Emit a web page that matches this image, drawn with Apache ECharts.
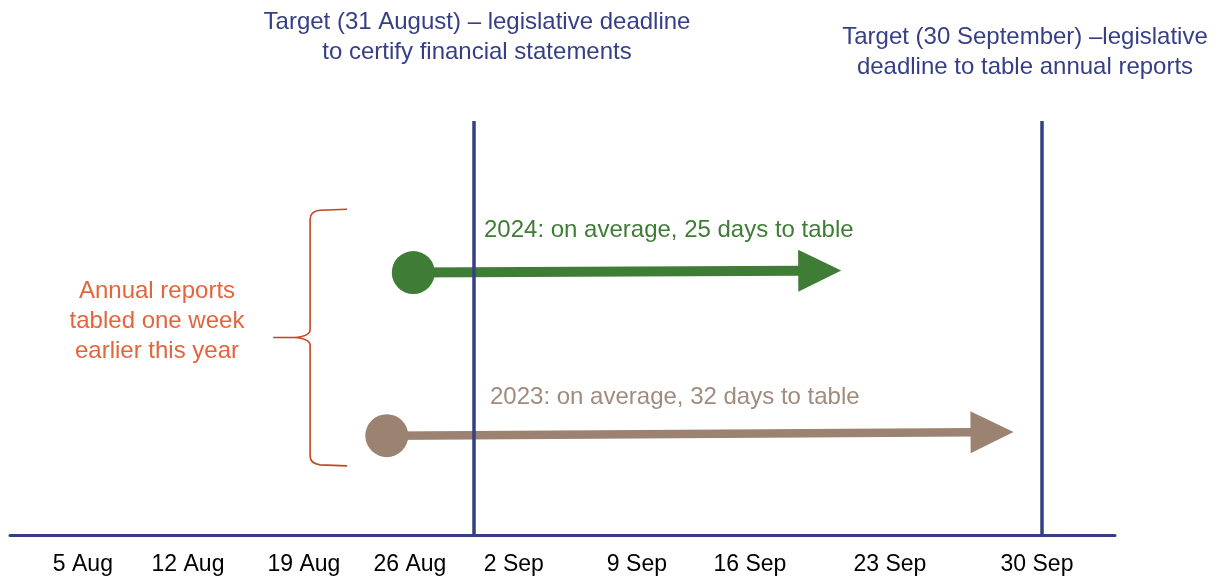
<!DOCTYPE html>
<html>
<head>
<meta charset="utf-8">
<script src="https://cdn.jsdelivr.net/npm/echarts@6/dist/echarts.min.js"></script>
<style>
  html, body { margin: 0; padding: 0; background: #fff; }
  #chart { width: 1216px; height: 578px; }
</style>
</head>
<body>
<div id="chart"></div>
<script>
// x = days counted from 31 August (0); 30 September = 30
var deadlines = [0, 30];
var tickLabels = ['5 Aug', '12 Aug', '19 Aug', '26 Aug', '2 Sep', '9 Sep', '16 Sep', '23 Sep', '30 Sep'];
var tickPos = [-20.65, -15.1, -8.98, -3.38, 2.11, 8.61, 14.58, 21.97, 29.74];

var years = ['2024', '2023'];
var avgDays = [25, 32];
var startDay = [-3.2, -4.6];
var endDay = [19.4, 28.5];
var startY = [63.4, 24.0];
var endY = [63.9, 24.9];

// brace: tips, spine, point (x) and top, middle, bottom (y)
var braceX = [-6.7, -8.65, -10.6];
var braceY = [78.7, 47.7, 16.7];

var navy = '#363f86';
var font = 'Liberation Sans, Arial, sans-serif';
var arrowColors = ['#3f7c35', '#9b8271'];
var textColors = ['#3f7c35', '#a08b7d'];
var lineWidths = [10, 8.5];

function renderArrow(params, api) {
  var i = params.dataIndex;
  var color = arrowColors[i];
  var p0 = api.coord([api.value(0), api.value(1)]);
  var p1 = api.coord([api.value(2), api.value(3)]);
  var dx = p1[0] - p0[0], dy = p1[1] - p0[1];
  var len = Math.sqrt(dx * dx + dy * dy);
  var ux = dx / len, uy = dy / len;
  var head = 43, half = 21;
  var bx = p1[0] - ux * head, by = p1[1] - uy * head;
  return {
    type: 'group',
    children: [
      { type: 'line', shape: { x1: p0[0], y1: p0[1], x2: bx + ux * 2, y2: by + uy * 2 },
        style: { stroke: color, lineWidth: lineWidths[i] } },
      { type: 'polygon', shape: { points: [[p1[0], p1[1]], [bx - uy * half, by + ux * half], [bx + uy * half, by - ux * half]] },
        style: { fill: color } },
      { type: 'circle', shape: { cx: p0[0], cy: p0[1], r: 21.5 }, style: { fill: color } }
    ]
  };
}

function renderBrace(params, api) {
  var t = api.coord([api.value(0), api.value(3)]);
  var m = api.coord([api.value(2), api.value(4)]);
  var b = api.coord([api.value(0), api.value(5)]);
  var s = api.coord([api.value(1), api.value(4)])[0];
  var d = 'M' + t[0] + ',' + t[1] +
    ' L' + (s + 10) + ',' + (t[1] + 1) +
    ' Q' + s + ',' + (t[1] + 2) + ' ' + s + ',' + (t[1] + 10) +
    ' L' + s + ',' + (m[1] - 8) +
    ' Q' + s + ',' + (m[1] - 1) + ' ' + (s - 16) + ',' + m[1] +
    ' L' + m[0] + ',' + m[1] +
    ' M' + (s - 16) + ',' + m[1] +
    ' Q' + s + ',' + (m[1] + 1) + ' ' + s + ',' + (m[1] + 8) +
    ' L' + s + ',' + (b[1] - 10) +
    ' Q' + s + ',' + (b[1] - 2) + ' ' + (s + 10) + ',' + (b[1] - 1) +
    ' L' + b[0] + ',' + b[1];
  return {
    type: 'path',
    shape: { pathData: d },
    style: { fill: 'none', stroke: '#c2461e', lineWidth: 1.6 }
  };
}

var arrowData = [];
for (var i = 0; i < years.length; i++) {
  arrowData.push([startDay[i], startY[i], endDay[i], endY[i]]);
}

var chart = echarts.init(document.getElementById('chart'));
chart.setOption({
  backgroundColor: '#fff',
  animation: false,
  grid: { left: 10, right: 101, top: 121, bottom: 43 },
  xAxis: {
    type: 'value',
    min: -24.5,
    max: 33.86,
    axisLine: { show: true, onZero: false, lineStyle: { color: navy, width: 3 } },
    axisTick: { show: false },
    splitLine: { show: false },
    axisLabel: {
      customValues: tickPos,
      formatter: function (v) {
        var k = tickPos.indexOf(v);
        return k >= 0 ? tickLabels[k] : '';
      },
      color: '#000',
      fontSize: 23,
      fontFamily: font,
      margin: 18
    }
  },
  yAxis: { type: 'value', min: 0, max: 100, show: false },
  graphic: [
    { type: 'text', x: 477, y: 37,
      style: { text: 'Target (31 August) – legislative deadline\nto certify financial statements',
        fill: navy, fontSize: 24, fontFamily: font, align: 'center', verticalAlign: 'middle', lineHeight: 30 } },
    { type: 'text', x: 1025, y: 52,
      style: { text: 'Target (30 September) –legislative\ndeadline to table annual reports',
        fill: navy, fontSize: 24, fontFamily: font, align: 'center', verticalAlign: 'middle', lineHeight: 30 } },
    { type: 'text', x: 484, y: 230,
      style: { text: years[0] + ': on average, ' + avgDays[0] + ' days to table',
        fill: textColors[0], fontSize: 24, fontFamily: font, align: 'left', verticalAlign: 'middle' } },
    { type: 'text', x: 490, y: 397,
      style: { text: years[1] + ': on average, ' + avgDays[1] + ' days to table',
        fill: textColors[1], fontSize: 24, fontFamily: font, align: 'left', verticalAlign: 'middle' } },
    { type: 'text', x: 157, y: 321,
      style: { text: 'Annual reports\ntabled one week\nearlier this year',
        fill: '#e3653e', fontSize: 24, fontFamily: font, align: 'center', verticalAlign: 'middle', lineHeight: 30 } }
  ],
  series: [
    {
      type: 'line',
      data: [],
      markLine: {
        silent: true,
        symbol: 'none',
        label: { show: false },
        lineStyle: { color: navy, width: 3.5, type: 'solid' },
        data: deadlines.map(function (d) { return { xAxis: d }; })
      }
    },
    {
      type: 'custom',
      renderItem: renderBrace,
      data: [[braceX[0], braceX[1], braceX[2], braceY[0], braceY[1], braceY[2]]],
      encode: { x: [0, 1, 2], y: [3, 4, 5] },
      z: 3
    },
    {
      type: 'custom',
      renderItem: renderArrow,
      data: arrowData,
      encode: { x: [0, 2], y: [1, 3] },
      z: 4
    }
  ]
});
</script>
</body>
</html>
